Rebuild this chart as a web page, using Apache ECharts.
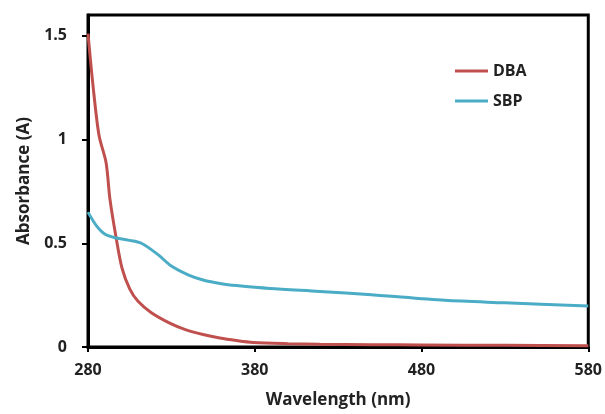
<!DOCTYPE html>
<html>
<head>
<meta charset="utf-8">
<script src="https://cdn.jsdelivr.net/npm/echarts@6/dist/echarts.min.js"></script>
<style>html,body{margin:0;padding:0;background:#fff}#c{width:605px;height:414px}</style>
</head>
<body>
<div id="c"></div>
<script>
const seriesNames = ['DBA', 'SBP'];
const dbaWavelength = [280, 283, 286.6, 290.8, 293.2, 296.8, 300.4, 305, 310, 318, 329, 338, 349, 359, 369, 379, 400, 419, 450, 480, 530, 580];
const dbaAbsorbance = [1.51, 1.26, 1.02, 0.89, 0.71, 0.53, 0.38, 0.28, 0.22, 0.165, 0.115, 0.085, 0.06, 0.043, 0.031, 0.022, 0.016, 0.013, 0.011, 0.01, 0.008, 0.006];
const sbpWavelength = [280, 285, 290, 297, 304, 312, 322, 330, 340, 349, 360, 369, 389, 419, 450, 494, 530, 580];
const sbpAbsorbance = [0.65, 0.585, 0.545, 0.525, 0.515, 0.5, 0.445, 0.39, 0.348, 0.323, 0.305, 0.296, 0.282, 0.268, 0.252, 0.225, 0.213, 0.197];
const xTicks = [280, 380, 480, 580];
const yTicks = [0, 0.5, 1, 1.5];

const font = 'Open Sans';
const textColor = '#222';
const chart = echarts.init(document.getElementById('c'));
const toPairs = (xs, ys) => xs.map((x, i) => [x, ys[i]]);
chart.setOption({
  animation: false,
  backgroundColor: '#fff',
  grid: { left: 88, right: 16, top: 15, bottom: 65, show: true, borderColor: '#000', borderWidth: 3 },
  legend: {
    orient: 'vertical', left: 450, top: 58, itemWidth: 33, itemHeight: 3, itemGap: 14, icon: 'rect',
    textStyle: { fontFamily: font, fontWeight: 'bold', fontSize: 16, color: textColor },
    data: seriesNames
  },
  xAxis: {
    type: 'value', min: xTicks[0], max: xTicks[xTicks.length - 1], interval: 100,
    name: 'Wavelength (nm)', nameLocation: 'middle', nameGap: 45,
    nameTextStyle: { fontFamily: font, fontWeight: 'bold', fontSize: 17, color: textColor },
    axisLine: { lineStyle: { color: '#000', width: 3 } },
    axisTick: { length: 5, lineStyle: { color: '#000', width: 2 } },
    axisLabel: { fontFamily: font, fontWeight: 'bold', fontSize: 16, color: textColor, margin: 15 },
    splitLine: { show: false }
  },
  yAxis: {
    type: 'value', min: 0, max: 1.6, interval: 0.5,
    name: 'Absorbance (A)', nameLocation: 'middle', nameGap: 55,
    nameTextStyle: { fontFamily: font, fontWeight: 'bold', fontSize: 17, color: textColor },
    axisLine: { show: true, lineStyle: { color: '#000', width: 3 } },
    axisTick: { show: true, length: 6, lineStyle: { color: '#000', width: 2 } },
    axisLabel: { fontFamily: font, fontWeight: 'bold', fontSize: 16, color: textColor, margin: 21, showMaxLabel: false,
      formatter: v => (yTicks.includes(v) ? String(v) : '') },
    splitLine: { show: false }
  },
  series: [
    { name: seriesNames[0], type: 'line', smooth: 0.3, symbol: 'none', data: toPairs(dbaWavelength, dbaAbsorbance),
      lineStyle: { color: '#c0504d', width: 3 }, itemStyle: { color: '#c0504d' } },
    { name: seriesNames[1], type: 'line', smooth: 0.3, symbol: 'none', data: toPairs(sbpWavelength, sbpAbsorbance),
      lineStyle: { color: '#4bacc6', width: 3 }, itemStyle: { color: '#4bacc6' } }
  ]
});
</script>
</body>
</html>
